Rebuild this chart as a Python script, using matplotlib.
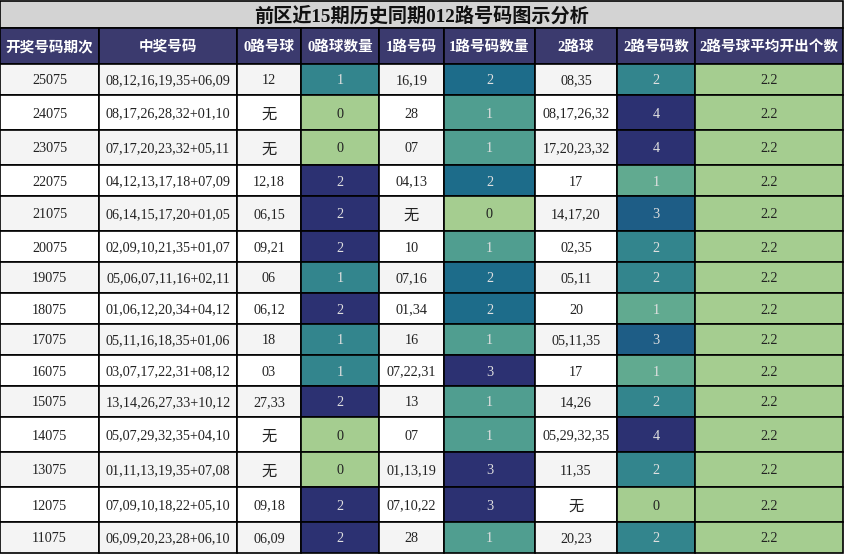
import matplotlib

matplotlib.use("Agg")
import matplotlib.pyplot as plt
import seaborn as sns
from matplotlib.colors import Normalize
from matplotlib.patches import Rectangle

TITLE = "前区近15期历史同期012路号码图示分析"
HEADERS = ["开奖号码期次", "中奖号码", "0路号球", "0路球数量", "1路号码",
           "1路号码数量", "2路球", "2路号码数", "2路号球平均开出个数"]

periods = ["25075", "24075", "23075", "22075", "21075", "20075", "19075", "18075",
           "17075", "16075", "15075", "14075", "13075", "12075", "11075"]
draws = ["08,12,16,19,35+06,09", "08,17,26,28,32+01,10", "07,17,20,23,32+05,11",
         "04,12,13,17,18+07,09", "06,14,15,17,20+01,05", "02,09,10,21,35+01,07",
         "05,06,07,11,16+02,11", "01,06,12,20,34+04,12", "05,11,16,18,35+01,06",
         "03,07,17,22,31+08,12", "13,14,26,27,33+10,12", "05,07,29,32,35+04,10",
         "01,11,13,19,35+07,08", "07,09,10,18,22+05,10", "06,09,20,23,28+06,10"]
zero_balls = ["12", "无", "无", "12,18", "06,15", "09,21", "06", "06,12", "18", "03",
              "27,33", "无", "无", "09,18", "06,09"]
zero_counts = [1, 0, 0, 2, 2, 2, 1, 2, 1, 1, 2, 0, 0, 2, 2]
one_balls = ["16,19", "28", "07", "04,13", "无", "10", "07,16", "01,34", "16", "07,22,31",
             "13", "07", "01,13,19", "07,10,22", "28"]
one_counts = [2, 1, 1, 2, 0, 1, 2, 2, 1, 3, 1, 1, 3, 3, 1]
two_balls = ["08,35", "08,17,26,32", "17,20,23,32", "17", "14,17,20", "02,35", "05,11", "20",
             "05,11,35", "17", "14,26", "05,29,32,35", "11,35", "无", "20,23"]
two_counts = [2, 4, 4, 1, 3, 2, 2, 1, 3, 1, 2, 4, 2, 0, 2]
avg_two = [2.2] * 15

# layout (pixels)
W, H = 844, 554
col_edges = [0, 99, 237, 301, 379, 444, 535, 617, 695, 843]
TITLE_H, HEAD_H = 28, 36
ROW_H, ROW_H_WU = 31, 35

HEAD_BG = "#3b3a6e"
TITLE_BG = "#d3d3d3"
ROW_BG = ["#f4f4f4", "#ffffff"]
FONT = ["Liberation Serif", "Noto Sans CJK SC", "DejaVu Sans"]

cmap = sns.color_palette("crest", as_cmap=True)

fig = plt.figure(figsize=(W / 100, H / 100), dpi=100)
ax = fig.add_axes([0, 0, 1, 1])
ax.set_xlim(0, W)
ax.set_ylim(H, 0)
ax.axis("off")

LW = 1.2


def cell(x0, x1, y0, y1, color):
    ax.add_patch(Rectangle((x0, y0), x1 - x0, y1 - y0, facecolor=color,
                           edgecolor="black", linewidth=LW))


# title
cell(col_edges[0], col_edges[-1], 0.5, TITLE_H, TITLE_BG)
ax.text((col_edges[0] + col_edges[-1]) / 2, TITLE_H / 2 + 1.5, TITLE, ha="center", va="center",
        fontsize=13.8, fontweight="bold", color="#111111",
        family=["Liberation Serif", "Noto Sans CJK SC"])

# header
for j, name in enumerate(HEADERS):
    cell(col_edges[j], col_edges[j + 1], TITLE_H, TITLE_H + HEAD_H, HEAD_BG)
    ax.text((col_edges[j] + col_edges[j + 1]) / 2, TITLE_H + HEAD_H / 2 + 1, name,
            ha="center", va="center", color="white", fontsize=10.5, fontweight="bold",
            family=["Liberation Serif", "Noto Sans CJK SC"])

columns = [periods, draws, zero_balls, zero_counts, one_balls, one_counts,
           two_balls, two_counts, avg_two]
heat_cols = {3, 5, 7, 8}
norms = {}
for j in heat_cols:
    vals = columns[j]
    lo, hi = min(vals), max(vals)
    norms[j] = Normalize(vmin=lo, vmax=hi if hi > lo else lo + 1)

y = TITLE_H + HEAD_H
for i in range(len(periods)):
    row = [col[i] for col in columns]
    has_wu = any(v == "无" for v in row)
    h = ROW_H_WU if has_wu else ROW_H
    for j, v in enumerate(row):
        x0, x1 = col_edges[j], col_edges[j + 1]
        if j in heat_cols:
            rgba = cmap(norms[j](v))
            cell(x0, x1, y, y + h, rgba)
            lum = 0.299 * rgba[0] + 0.587 * rgba[1] + 0.114 * rgba[2]
            tc = "#222222" if lum > 0.6 else "#e0e0e0"
        else:
            cell(x0, x1, y, y + h, ROW_BG[i % 2])
            tc = "#222222"
        txt = str(v)
        if txt == "无":
            ax.text((x0 + x1) / 2, y + h / 2 + 2.5, txt, ha="center", va="center",
                    color=tc, fontsize=11, family=FONT)
        else:
            ax.text((x0 + x1) / 2, y + h / 2 + 1.5, txt, ha="center", va="center",
                    color=tc, fontsize=10.2, family=FONT)
    y += h

fig.savefig("out.png", dpi=100)
